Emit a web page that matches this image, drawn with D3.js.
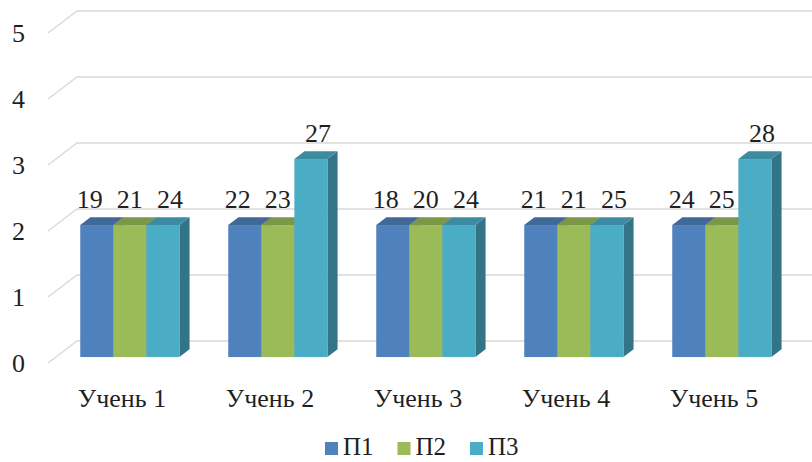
<!DOCTYPE html>
<html>
<head>
<meta charset="utf-8">
<script src="https://cdn.jsdelivr.net/npm/d3@7"></script>
<style>
  html, body { margin: 0; padding: 0; background: #fff; }
  svg { display: block; }
</style>
</head>
<body>
<svg id="chart" width="812" height="462" font-family="'Liberation Serif', 'Times New Roman', Times, serif"></svg>
<script>
// Students, tests and results
const categories = ["Учень 1", "Учень 2", "Учень 3", "Учень 4", "Учень 5"];
const seriesNames = ["П1", "П2", "П3"];
// grade per test (bar height)
const gradeP1 = [2, 2, 2, 2, 2];
const gradeP2 = [2, 2, 2, 2, 2];
const gradeP3 = [2, 3, 2, 2, 3];
// score per test (label above each bar)
const scoreP1 = [19, 22, 18, 21, 24];
const scoreP2 = [21, 23, 20, 21, 25];
const scoreP3 = [24, 27, 24, 25, 28];
const yTicks = [0, 1, 2, 3, 4, 5];

const colors = ["#4F81BD", "#9BBB59", "#4BACC6"];
const grades = [gradeP1, gradeP2, gradeP3];
const scores = [scoreP1, scoreP2, scoreP3];

const svg = d3.select("#chart");
const W = 812, H = 462;
const textColor = "#1f1f1f";
const fontSize = 26;

// front plane of the 3D box and its depth vector
const front = { left: 48, right: 788, bottom: 363, top: 33 };
const depth = { dx: 29, dy: -22 };
const barDepth = { from: 0.27, to: 0.62 };

const x = d3.scaleBand().domain(categories).range([front.left, front.right]);
const xInner = d3.scaleBand().domain(seriesNames).range([0, x.bandwidth() * 0.67]);
const y = d3.scaleLinear().domain([0, 5]).range([front.bottom, front.top]);

const proj = (px, v, f) => [px + f * depth.dx, y(v) + f * depth.dy];

// gridlines: floor-side diagonal plus the back wall line
const grid = svg.append("g");
yTicks.forEach(t => {
  const a = proj(front.left, t, 0), b = proj(front.left, t, 1), c = proj(W + 40, t, 1);
  grid.append("path")
    .attr("d", `M${a[0]},${a[1]}L${b[0]},${b[1]}L${c[0]},${c[1]}`)
    .attr("fill", "none").attr("stroke", "#D9D9D9").attr("stroke-width", 1.3);
});

// y axis labels
svg.append("g").selectAll("text").data(yTicks).join("text")
  .attr("x", 25).attr("y", d => y(d) + 9)
  .attr("text-anchor", "end").attr("font-size", fontSize).attr("fill", textColor)
  .text(d => d);

// bars
const bars = svg.append("g");
const poly = pts => "M" + pts.map(p => p.join(",")).join("L") + "Z";
categories.forEach((cat, ci) => {
  const groupStart = x(cat) + (x.bandwidth() - x.bandwidth() * 0.67) / 2;
  seriesNames.forEach((s, si) => {
    const v = grades[si][ci];
    const x0 = groupStart + xInner(s), x1 = x0 + xInner.bandwidth();
    const f0 = barDepth.from, f1 = barDepth.to;
    const base = d3.color(colors[si]);
    const sideCol = d3.color(colors[si]).darker(1.1);
    const topCol = d3.color(colors[si]).darker(0.6);
    // right side
    bars.append("path").attr("d", poly([proj(x1, 0, f0), proj(x1, 0, f1), proj(x1, v, f1), proj(x1, v, f0)]))
      .attr("fill", sideCol);
    // top
    bars.append("path").attr("d", poly([proj(x0, v, f0), proj(x1, v, f0), proj(x1, v, f1), proj(x0, v, f1)]))
      .attr("fill", topCol);
    // front
    const p0 = proj(x0, v, f0), p1 = proj(x1, 0, f0);
    bars.append("rect").attr("x", p0[0]).attr("y", p0[1])
      .attr("width", p1[0] - p0[0]).attr("height", p1[1] - p0[1])
      .attr("fill", base);
  });
});

// score labels above bars, spread slightly apart within each group
const labels = svg.append("g");
categories.forEach((cat, ci) => {
  const groupStart = x(cat) + (x.bandwidth() - x.bandwidth() * 0.67) / 2;
  seriesNames.forEach((s, si) => {
    const v = grades[si][ci];
    const cx = groupStart + xInner(s) + xInner.bandwidth() / 2;
    const p = proj(cx, v, barDepth.from);
    labels.append("text")
      .attr("x", p[0] + (si - 1) * 7).attr("y", p[1] - 17)
      .attr("text-anchor", "middle").attr("font-size", fontSize).attr("fill", textColor)
      .text(scores[si][ci]);
  });
});

// category labels
svg.append("g").selectAll("text").data(categories).join("text")
  .attr("x", d => x(d) + x.bandwidth() / 2)
  .attr("y", 407)
  .attr("text-anchor", "middle").attr("font-size", fontSize).attr("fill", textColor)
  .text(d => d);

// legend
const legend = svg.append("g");
const legendX = d3.scalePoint().domain(seriesNames).range([325, 470]);
seriesNames.forEach((s, si) => {
  legend.append("rect").attr("x", legendX(s)).attr("y", 442)
    .attr("width", 13).attr("height", 13).attr("fill", colors[si]);
  legend.append("text").attr("x", legendX(s) + 18).attr("y", 455)
    .attr("font-size", 25).attr("fill", textColor).text(s);
});
</script>
</body>
</html>
